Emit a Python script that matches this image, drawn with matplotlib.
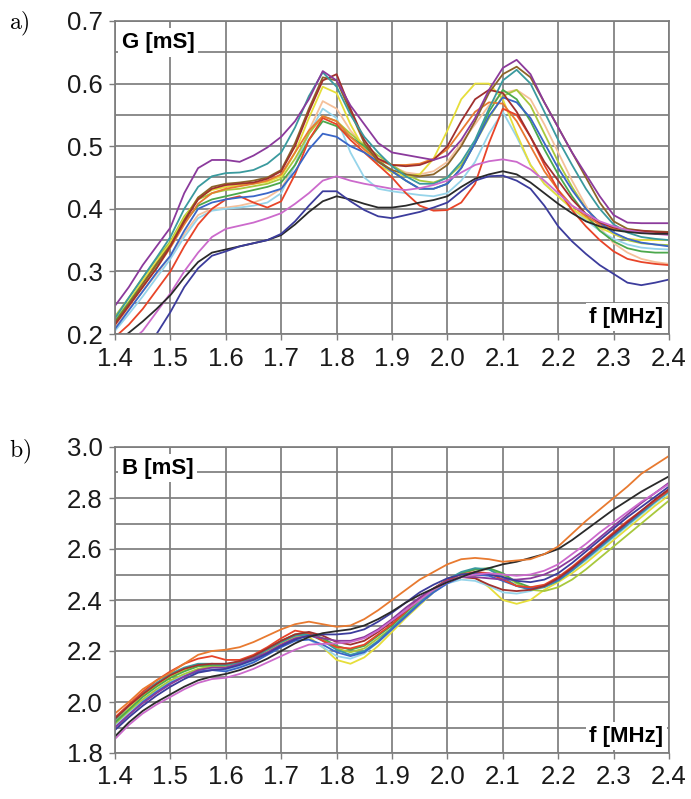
import matplotlib
matplotlib.use("Agg")
import matplotlib.pyplot as plt
from matplotlib.ticker import MultipleLocator

plt.rcParams['font.family'] = ['Liberation Sans', 'DejaVu Sans']
plt.rcParams['mathtext.fontset'] = 'cm'

# frequency grid [MHz]
f = [1.400, 1.425, 1.450, 1.475, 1.500, 1.525, 1.550, 1.575, 1.600, 1.625,
     1.650, 1.675, 1.700, 1.725, 1.750, 1.775, 1.800, 1.825, 1.850, 1.875,
     1.900, 1.925, 1.950, 1.975, 2.000, 2.025, 2.050, 2.075, 2.100, 2.125,
     2.150, 2.175, 2.200, 2.225, 2.250, 2.275, 2.300, 2.325, 2.350, 2.375, 2.400]

x_ticks = [1.4, 1.5, 1.6, 1.7, 1.8, 1.9, 2.0, 2.1, 2.2, 2.3, 2.4]
x_labels = ["1.4", "1.5", "1.6", "1.7", "1.8", "1.9", "2.0", "2.1", "2.2", "2.3", "2.4"]
g_ticks = [0.2, 0.3, 0.4, 0.5, 0.6, 0.7]
g_labels = ["0.2", "0.3", "0.4", "0.5", "0.6", "0.7"]
b_ticks = [1.8, 2.0, 2.2, 2.4, 2.6, 2.8, 3.0]
b_labels = ["1.8", "2.0", "2.2", "2.4", "2.6", "2.8", "3.0"]

# ---------------- G [mS] ----------------
G_purple = [0.245, 0.275, 0.310, 0.340, 0.370, 0.425, 0.465, 0.478, 0.478, 0.475,
            0.485, 0.498, 0.515, 0.540, 0.575, 0.620, 0.605, 0.565, 0.535, 0.505,
            0.490, 0.486, 0.482, 0.478, 0.485, 0.510, 0.545, 0.590, 0.625, 0.638,
            0.615, 0.570, 0.530, 0.490, 0.455, 0.420, 0.390, 0.378, 0.377, 0.377, 0.377]
G_teal = [0.225, 0.258, 0.290, 0.322, 0.355, 0.400, 0.435, 0.452, 0.457, 0.458,
          0.462, 0.472, 0.490, 0.530, 0.580, 0.618, 0.595, 0.550, 0.515, 0.490,
          0.468, 0.452, 0.440, 0.440, 0.450, 0.475, 0.510, 0.560, 0.605, 0.622,
          0.600, 0.555, 0.510, 0.470, 0.432, 0.400, 0.375, 0.362, 0.355, 0.352, 0.350]
G_darkred = [0.215, 0.245, 0.275, 0.305, 0.340, 0.380, 0.415, 0.432, 0.438, 0.440,
             0.442, 0.448, 0.460, 0.500, 0.555, 0.605, 0.615, 0.560, 0.510, 0.480,
             0.470, 0.468, 0.470, 0.478, 0.500, 0.540, 0.575, 0.590, 0.585, 0.555,
             0.515, 0.475, 0.445, 0.415, 0.392, 0.378, 0.370, 0.366, 0.365, 0.363, 0.362]
G_yellow = [0.222, 0.252, 0.285, 0.315, 0.345, 0.385, 0.418, 0.430, 0.435, 0.438,
            0.440, 0.443, 0.452, 0.490, 0.545, 0.595, 0.585, 0.535, 0.495, 0.470,
            0.458, 0.452, 0.455, 0.480, 0.525, 0.575, 0.600, 0.600, 0.575, 0.520,
            0.470, 0.440, 0.420, 0.400, 0.385, 0.370, 0.360, 0.352, 0.350, 0.350, 0.350]
G_peach = [0.210, 0.240, 0.268, 0.296, 0.325, 0.360, 0.390, 0.400, 0.402, 0.405,
           0.410, 0.418, 0.432, 0.470, 0.525, 0.572, 0.560, 0.525, 0.500, 0.480,
           0.468, 0.458, 0.455, 0.460, 0.475, 0.505, 0.535, 0.565, 0.585, 0.590,
           0.575, 0.535, 0.490, 0.445, 0.405, 0.370, 0.345, 0.330, 0.320, 0.315, 0.312]
G_lightblue = [0.205, 0.232, 0.260, 0.290, 0.320, 0.355, 0.385, 0.397, 0.400, 0.402,
               0.405, 0.410, 0.425, 0.470, 0.520, 0.560, 0.545, 0.490, 0.450, 0.432,
               0.428, 0.425, 0.422, 0.420, 0.425, 0.445, 0.475, 0.520, 0.555, 0.515,
               0.470, 0.440, 0.420, 0.400, 0.382, 0.365, 0.352, 0.343, 0.338, 0.336, 0.335]
G_red = [0.195, 0.215, 0.240, 0.270, 0.300, 0.340, 0.375, 0.400, 0.415, 0.420,
         0.410, 0.402, 0.412, 0.455, 0.510, 0.545, 0.535, 0.510, 0.490, 0.470,
         0.450, 0.425, 0.405, 0.397, 0.398, 0.410, 0.440, 0.505, 0.560, 0.550,
         0.515, 0.470, 0.430, 0.398, 0.372, 0.350, 0.332, 0.320, 0.315, 0.312, 0.310]
G_orange = [0.215, 0.245, 0.275, 0.305, 0.338, 0.375, 0.408, 0.425, 0.432, 0.436,
            0.440, 0.445, 0.455, 0.490, 0.525, 0.548, 0.540, 0.515, 0.495, 0.478,
            0.470, 0.470, 0.472, 0.480, 0.495, 0.525, 0.555, 0.570, 0.568, 0.540,
            0.500, 0.460, 0.430, 0.405, 0.388, 0.375, 0.368, 0.364, 0.362, 0.361, 0.360]
G_green = [0.220, 0.250, 0.280, 0.310, 0.340, 0.378, 0.405, 0.415, 0.420, 0.425,
           0.430, 0.435, 0.442, 0.470, 0.510, 0.540, 0.532, 0.515, 0.500, 0.478,
           0.460, 0.445, 0.432, 0.432, 0.440, 0.465, 0.505, 0.555, 0.590, 0.575,
           0.540, 0.495, 0.455, 0.420, 0.390, 0.365, 0.348, 0.337, 0.332, 0.330, 0.330]
G_lime = [0.228, 0.258, 0.290, 0.320, 0.348, 0.388, 0.415, 0.425, 0.430, 0.432,
          0.436, 0.440, 0.448, 0.480, 0.520, 0.548, 0.540, 0.520, 0.502, 0.485,
          0.470, 0.455, 0.445, 0.442, 0.450, 0.470, 0.505, 0.545, 0.580, 0.590,
          0.565, 0.520, 0.475, 0.435, 0.400, 0.378, 0.360, 0.350, 0.345, 0.343, 0.342]
G_blue = [0.208, 0.238, 0.268, 0.298, 0.325, 0.365, 0.400, 0.410, 0.415, 0.418,
          0.420, 0.425, 0.432, 0.460, 0.495, 0.520, 0.515, 0.500, 0.490, 0.475,
          0.460, 0.445, 0.432, 0.432, 0.440, 0.465, 0.505, 0.548, 0.578, 0.570,
          0.545, 0.505, 0.465, 0.430, 0.400, 0.378, 0.362, 0.352, 0.346, 0.343, 0.340]
G_brown = [0.218, 0.248, 0.280, 0.312, 0.342, 0.382, 0.418, 0.435, 0.440, 0.442,
           0.445, 0.450, 0.462, 0.505, 0.560, 0.610, 0.605, 0.555, 0.505, 0.475,
           0.462, 0.455, 0.452, 0.455, 0.470, 0.500, 0.540, 0.585, 0.615, 0.627,
           0.610, 0.570, 0.530, 0.490, 0.450, 0.410, 0.380, 0.368, 0.365, 0.364, 0.363]
G_magenta = [0.170, 0.185, 0.205, 0.235, 0.265, 0.300, 0.330, 0.355, 0.368, 0.373,
             0.378, 0.385, 0.393, 0.408, 0.425, 0.445, 0.452, 0.445, 0.440, 0.436,
             0.432, 0.430, 0.433, 0.438, 0.445, 0.458, 0.470, 0.476, 0.479, 0.475,
             0.463, 0.445, 0.425, 0.405, 0.392, 0.380, 0.372, 0.366, 0.362, 0.360, 0.358]
G_black = [0.185, 0.202, 0.220, 0.240, 0.262, 0.290, 0.315, 0.330, 0.335, 0.340,
           0.345, 0.350, 0.358, 0.375, 0.395, 0.412, 0.420, 0.415, 0.408, 0.402,
           0.402, 0.405, 0.410, 0.414, 0.420, 0.435, 0.448, 0.455, 0.460, 0.455,
           0.442, 0.425, 0.408, 0.393, 0.380, 0.372, 0.366, 0.363, 0.361, 0.360, 0.360]
G_navy = [0.150, 0.162, 0.178, 0.200, 0.235, 0.275, 0.305, 0.325, 0.332, 0.340,
          0.345, 0.350, 0.360, 0.380, 0.405, 0.428, 0.428, 0.412, 0.398, 0.388,
          0.385, 0.390, 0.395, 0.402, 0.410, 0.428, 0.445, 0.452, 0.453, 0.445,
          0.432, 0.405, 0.372, 0.348, 0.328, 0.310, 0.296, 0.282, 0.278, 0.282, 0.287]

# ---------------- B [mS] ----------------
B_orange = [1.955, 2.000, 2.050, 2.085, 2.115, 2.150, 2.185, 2.200, 2.205, 2.215,
            2.235, 2.260, 2.285, 2.305, 2.315, 2.305, 2.295, 2.300, 2.325, 2.360,
            2.400, 2.440, 2.480, 2.510, 2.540, 2.560, 2.565, 2.560, 2.550, 2.555,
            2.560, 2.580, 2.610, 2.660, 2.710, 2.755, 2.800, 2.845, 2.895, 2.930, 2.965]
B_black = [1.865, 1.920, 1.965, 2.000, 2.030, 2.060, 2.085, 2.100, 2.110, 2.125,
           2.145, 2.170, 2.200, 2.230, 2.255, 2.270, 2.278, 2.285, 2.300, 2.325,
           2.355, 2.390, 2.420, 2.445, 2.470, 2.490, 2.510, 2.525, 2.540, 2.550,
           2.565, 2.580, 2.600, 2.635, 2.675, 2.715, 2.755, 2.790, 2.825, 2.855, 2.885]
B_magenta = [1.855, 1.910, 1.955, 1.990, 2.020, 2.050, 2.075, 2.090, 2.095, 2.110,
             2.130, 2.155, 2.180, 2.205, 2.225, 2.228, 2.230, 2.235, 2.250, 2.280,
             2.320, 2.360, 2.400, 2.440, 2.470, 2.490, 2.500, 2.505, 2.500, 2.495,
             2.500, 2.515, 2.540, 2.580, 2.620, 2.665, 2.705, 2.745, 2.785, 2.820, 2.855]
B_purple = [1.900, 1.950, 1.995, 2.035, 2.070, 2.100, 2.125, 2.135, 2.135, 2.150,
            2.170, 2.195, 2.225, 2.250, 2.260, 2.250, 2.240, 2.240, 2.255, 2.285,
            2.325, 2.370, 2.410, 2.445, 2.475, 2.490, 2.490, 2.485, 2.480, 2.480,
            2.485, 2.500, 2.525, 2.560, 2.600, 2.645, 2.690, 2.735, 2.780, 2.820, 2.860]
B_navy = [1.890, 1.940, 1.985, 2.025, 2.060, 2.090, 2.115, 2.125, 2.130, 2.145,
          2.165, 2.190, 2.220, 2.245, 2.260, 2.265, 2.265, 2.270, 2.285, 2.315,
          2.350, 2.390, 2.430, 2.460, 2.485, 2.500, 2.505, 2.500, 2.490, 2.475,
          2.470, 2.480, 2.505, 2.545, 2.590, 2.635, 2.680, 2.725, 2.765, 2.805, 2.845]
B_teal = [1.930, 1.985, 2.035, 2.075, 2.110, 2.135, 2.150, 2.150, 2.145, 2.155,
          2.175, 2.205, 2.235, 2.260, 2.265, 2.240, 2.205, 2.185, 2.200, 2.240,
          2.290, 2.340, 2.390, 2.440, 2.480, 2.510, 2.525, 2.520, 2.490, 2.455,
          2.440, 2.450, 2.475, 2.515, 2.560, 2.605, 2.650, 2.695, 2.740, 2.785, 2.825]
B_green = [1.920, 1.970, 2.020, 2.060, 2.095, 2.120, 2.140, 2.145, 2.145, 2.160,
           2.180, 2.210, 2.240, 2.265, 2.270, 2.250, 2.220, 2.205, 2.220, 2.260,
           2.300, 2.350, 2.400, 2.445, 2.480, 2.505, 2.520, 2.525, 2.505, 2.470,
           2.450, 2.455, 2.480, 2.520, 2.565, 2.610, 2.655, 2.700, 2.745, 2.790, 2.830]
B_lime = [1.915, 1.965, 2.010, 2.050, 2.085, 2.110, 2.130, 2.140, 2.140, 2.155,
          2.175, 2.205, 2.235, 2.260, 2.265, 2.245, 2.210, 2.195, 2.210, 2.250,
          2.290, 2.340, 2.390, 2.435, 2.475, 2.505, 2.520, 2.520, 2.500, 2.465,
          2.440, 2.435, 2.450, 2.480, 2.520, 2.565, 2.610, 2.655, 2.700, 2.745, 2.790]
B_yellow = [1.925, 1.975, 2.025, 2.065, 2.100, 2.125, 2.140, 2.140, 2.135, 2.150,
            2.170, 2.200, 2.230, 2.255, 2.255, 2.215, 2.165, 2.150, 2.175, 2.220,
            2.275, 2.330, 2.380, 2.430, 2.470, 2.490, 2.490, 2.450, 2.400, 2.385,
            2.400, 2.440, 2.470, 2.505, 2.545, 2.590, 2.635, 2.680, 2.725, 2.770, 2.810]
B_lightblue = [1.910, 1.960, 2.005, 2.045, 2.080, 2.105, 2.125, 2.130, 2.125, 2.140,
               2.160, 2.190, 2.220, 2.245, 2.245, 2.215, 2.180, 2.170, 2.190, 2.235,
               2.285, 2.335, 2.385, 2.430, 2.465, 2.480, 2.475, 2.455, 2.430, 2.425,
               2.435, 2.455, 2.480, 2.515, 2.555, 2.600, 2.645, 2.690, 2.735, 2.780, 2.820]
B_red = [1.940, 1.990, 2.040, 2.085, 2.120, 2.150, 2.170, 2.180, 2.165, 2.165,
         2.185, 2.215, 2.250, 2.280, 2.270, 2.240, 2.215, 2.210, 2.225, 2.265,
         2.305, 2.355, 2.405, 2.445, 2.480, 2.500, 2.510, 2.505, 2.480, 2.455,
         2.450, 2.460, 2.490, 2.530, 2.575, 2.620, 2.665, 2.710, 2.750, 2.790, 2.830]
B_darkred = [1.935, 1.985, 2.030, 2.070, 2.105, 2.130, 2.145, 2.150, 2.150, 2.160,
             2.180, 2.210, 2.240, 2.265, 2.275, 2.260, 2.235, 2.225, 2.240, 2.275,
             2.315, 2.360, 2.405, 2.445, 2.475, 2.490, 2.485, 2.460, 2.440, 2.435,
             2.440, 2.455, 2.485, 2.525, 2.570, 2.615, 2.660, 2.705, 2.750, 2.795, 2.835]
B_blue = [1.900, 1.950, 2.000, 2.040, 2.075, 2.100, 2.120, 2.125, 2.120, 2.135,
          2.155, 2.185, 2.215, 2.240, 2.245, 2.225, 2.195, 2.180, 2.195, 2.235,
          2.285, 2.335, 2.385, 2.430, 2.465, 2.490, 2.500, 2.495, 2.475, 2.455,
          2.445, 2.455, 2.480, 2.520, 2.565, 2.610, 2.655, 2.700, 2.745, 2.790, 2.835]

C = dict(purple='#8B3A9C', teal='#3A9A9E', darkred='#A0302E', yellow='#E6DE3A',
         peach='#F5C09A', lightblue='#96D4EA', red='#E84428', orange='#E87A30',
         green='#4CA84C', lime='#A8C83C', blue='#3A66C8', brown='#8C6428',
         magenta='#CC6ACC', black='#2A2A2A', navy='#3C3C9C')

g_series = [(G_peach, 'peach'), (G_lightblue, 'lightblue'), (G_lime, 'lime'),
            (G_yellow, 'yellow'), (G_green, 'green'), (G_orange, 'orange'),
            (G_red, 'red'), (G_blue, 'blue'), (G_brown, 'brown'), (G_darkred, 'darkred'),
            (G_teal, 'teal'), (G_purple, 'purple'), (G_magenta, 'magenta'),
            (G_black, 'black'), (G_navy, 'navy')]
b_series = [(B_yellow, 'yellow'), (B_lightblue, 'lightblue'), (B_lime, 'lime'),
            (B_green, 'green'), (B_teal, 'teal'), (B_blue, 'blue'), (B_red, 'red'),
            (B_darkred, 'darkred'), (B_purple, 'purple'), (B_navy, 'navy'),
            (B_magenta, 'magenta'), (B_black, 'black'), (B_orange, 'orange')]

fig = plt.figure(figsize=(6.91, 7.99), dpi=100)
W, H = 691.0, 799.0
ax1 = fig.add_axes([115 / W, 1 - 334 / H, 554 / W, 313 / H])
ax2 = fig.add_axes([115 / W, 1 - 753 / H, 554 / W, 306 / H])

gridc = '#7d7d7d'

def style(ax, yt, yl, ylim, yminor):
    ax.set_xlim(1.4, 2.4)
    ax.set_ylim(*ylim)
    ax.set_xticks(x_ticks)
    ax.set_xticklabels(x_labels)
    ax.set_yticks(yt)
    ax.set_yticklabels(yl)
    ax.yaxis.set_minor_locator(MultipleLocator(yminor))
    ax.grid(True, which='both', color=gridc, lw=1.25)
    ax.set_axisbelow(True)
    for s in ax.spines.values():
        s.set_color(gridc)
        s.set_linewidth(1.25)
    ax.tick_params(axis='both', which='major', labelsize=18.5, length=4,
                   width=1.0, color=gridc, pad=5, labelcolor='#1a1a1a')
    ax.tick_params(axis='y', which='minor', length=0)

style(ax1, g_ticks, g_labels, (0.2, 0.7), 0.05)
style(ax2, b_ticks, b_labels, (1.8, 3.0), 0.1)

for vals, c in g_series:
    ax1.plot(f, vals, color=C[c], lw=1.3, solid_joinstyle='round')
for vals, c in b_series:
    ax2.plot(f, vals, color=C[c], lw=1.3, solid_joinstyle='round')

box = dict(facecolor='white', edgecolor='none', pad=2.5)
ax1.text(0.012, 0.965, 'G [mS]', transform=ax1.transAxes, ha='left', va='top',
         fontsize=16, fontweight='bold', bbox=box, zorder=5)
ax1.text(0.99, 0.02, 'f [MHz]', transform=ax1.transAxes, ha='right', va='bottom',
         fontsize=16, fontweight='bold', bbox=box, zorder=5)
ax2.text(0.012, 0.965, 'B [mS]', transform=ax2.transAxes, ha='left', va='top',
         fontsize=16, fontweight='bold', bbox=box, zorder=5)
ax2.text(0.99, 0.02, 'f [MHz]', transform=ax2.transAxes, ha='right', va='bottom',
         fontsize=16, fontweight='bold', bbox=box, zorder=5)

fig.text(9 / W, 1 - 24 / H, r'$\mathrm{a)}$', fontsize=17, ha='left', va='center')
fig.text(9 / W, 1 - 452 / H, r'$\mathrm{b)}$', fontsize=17, ha='left', va='center')

fig.savefig('out.png', dpi=100)
